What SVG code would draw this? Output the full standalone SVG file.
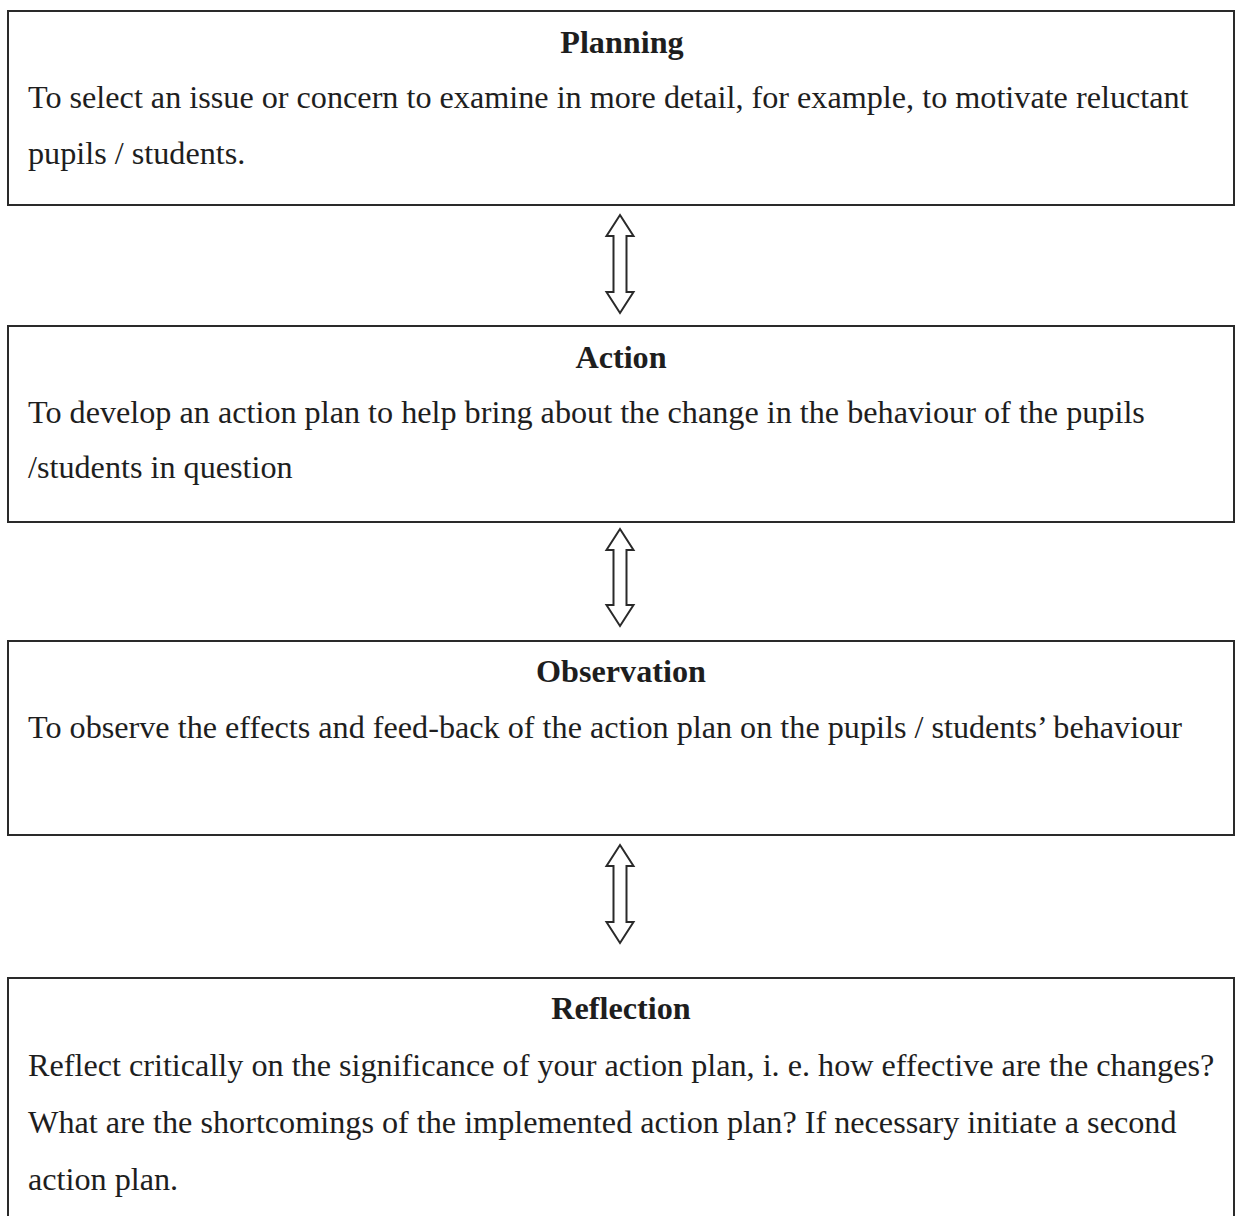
<svg xmlns="http://www.w3.org/2000/svg" width="1237" height="1216" viewBox="0 0 1237 1216">
<style>
.box{fill:#fff;stroke:#2a2a2a;stroke-width:2}
.t{font-family:"Liberation Serif","Times New Roman",serif;font-size:32.2px;fill:#1e1e1e}
.h{font-weight:bold;text-anchor:middle}
.arr{fill:#fff;stroke:#2a2a2a;stroke-width:2;stroke-linejoin:miter}
</style>
<rect width="1237" height="1216" fill="#fff"/>
<g id="planning">
<rect class="box" x="8" y="11" width="1226" height="194"/>
<text class="t h" x="622" y="53">Planning</text>
<text class="t" x="28" y="108">To select an issue or concern to examine in more detail, for example, to motivate reluctant</text>
<text class="t" x="28" y="164">pupils / students.</text>
</g>
<g id="action">
<rect class="box" x="8" y="326" width="1226" height="196"/>
<text class="t h" x="621" y="368">Action</text>
<text class="t" x="28" y="423">To develop an action plan to help bring about the change in the behaviour of the pupils</text>
<text class="t" x="28" y="478">/students in question</text>
</g>
<g id="observation">
<rect class="box" x="8" y="641" width="1226" height="194"/>
<text class="t h" x="621" y="682">Observation</text>
<text class="t" x="28" y="738">To observe the effects and feed-back of the action plan on the pupils / students’ behaviour</text>
</g>
<g id="reflection">
<rect class="box" x="8" y="978" width="1226" height="260"/>
<text class="t h" x="621" y="1019">Reflection</text>
<text class="t" x="28" y="1076">Reflect critically on the significance of your action plan, i. e. how effective are the changes?</text>
<text class="t" x="28" y="1133">What are the shortcomings of the implemented action plan? If necessary initiate a second</text>
<text class="t" x="28" y="1190">action plan.</text>
</g>
<g id="connectors">
<path class="arr" d="M620,215 L633.5,236 L626.5,236 L626.5,292 L633.5,292 L620,313 L606.5,292 L613.5,292 L613.5,236 L606.5,236 Z"/>
<path class="arr" d="M620,529 L633.5,550 L626.5,550 L626.5,605 L633.5,605 L620,626 L606.5,605 L613.5,605 L613.5,550 L606.5,550 Z"/>
<path class="arr" d="M620,845 L633.5,866 L626.5,866 L626.5,922 L633.5,922 L620,943 L606.5,922 L613.5,922 L613.5,866 L606.5,866 Z"/>
</g>
</svg>
